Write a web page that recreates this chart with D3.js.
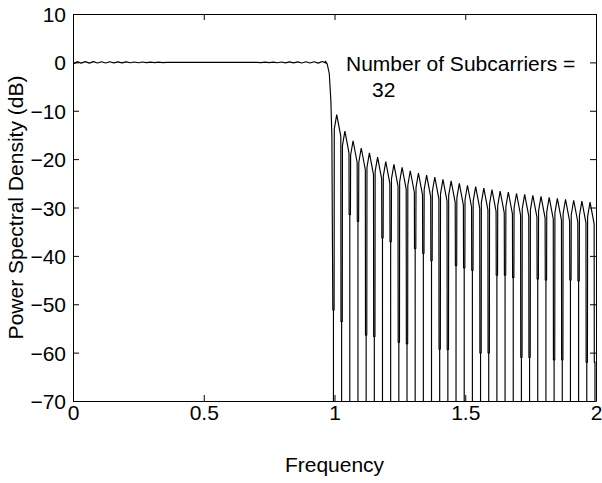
<!DOCTYPE html>
<html><head><meta charset="utf-8">
<script src="https://cdn.jsdelivr.net/npm/d3@7"></script>
<style>
body{margin:0;background:#fff}
svg text{font-family:"Liberation Sans",Arial,Helvetica,sans-serif;fill:#000}
</style>
</head><body>
<svg id="chart" width="602" height="483"></svg>
<script>
// ---------- data ----------
const xTickValues = [0, 0.5, 1, 1.5, 2];
const yTickValues = [10, 0, -10, -20, -30, -40, -50, -60, -70];
const xLabel = "Frequency";
const yLabel = "Power Spectral Density (dB)";
const noteLine1 = "Number of Subcarriers =";
const noteLine2 = "32";

// passband, sampled every 1/64 from 0 (dB)
const passbandDb = [
 -0.4, 0.15,-0.15, 0.15,-0.15, 0.15,-0.12, 0.12,-0.12, 0.12,-0.1, 0.1,
 -0.1, 0.1,-0.08, 0.08,-0.08, 0.08,-0.06, 0.06,-0.05, 0.05,-0.04, 0,
  0, 0, 0, 0, 0, 0, 0, 0, 0, 0, 0, 0, 0, 0, 0, 0, 0, 0, 0, 0, 0, 0,
 -0.05, 0.05,-0.06, 0.06,-0.08, 0.08,-0.1, 0.1,-0.1, 0.1,-0.12, 0.12,
 -0.12, 0.12,-0.15, 0.2,-0.15
];
// band edge roll-off
const edgeFreq = [0.964, 0.972, 0.980, 0.986, 0.990];
const edgeDb   = [0.3, -0.3, -2.3, -7.8, -15.4];

// sidelobes (32 lobes between the band edge and 2)
const firstNull = 0.996;
const nullSpacing = 1 / 32;
const lobePeakDb = [
 -10.8,-14.2,-16.2,-17.7,-18.7,-19.6,-20.5,-21.1,-21.7,-22.4,-22.9,-23.3,
 -23.7,-24.2,-24.5,-25.0,-25.4,-25.7,-26.0,-26.3,-26.6,-26.8,-27.1,-27.3,
 -27.5,-27.7,-27.9,-28.1,-28.3,-28.5,-28.7,-28.9
];
const lobeRiseDb = [
 -13.8,-17.2,-19.2,-20.7,-21.7,-22.6,-23.5,-24.1,-24.7,-25.4,-25.9,-26.3,
 -26.7,-27.2,-27.5,-28.0,-28.4,-28.7,-29.0,-29.3,-29.6,-29.8,-30.1,-30.3,
 -30.5,-30.7,-30.9,-31.1,-31.3,-31.5,-31.7,-31.9
];
const lobeFallDb = [
 -15.3,-18.7,-20.7,-22.2,-23.2,-24.1,-25.0,-25.6,-26.2,-26.9,-27.4,-27.8,
 -28.2,-28.7,-29.0,-29.5,-29.9,-30.2,-30.5,-30.8,-31.1,-31.3,-31.6,-31.8,
 -32.0,-32.2,-32.4,-32.6,-32.8,-33.0,-33.2,-33.4
];
// level where the two strokes at each null merge into one line (33 nulls)
const nullDipDb = [
 -51.2,-53.6,-31.5,-32.9,-56.4,-56.7,-36.3,-37.1,-57.9,-58.2,-38.5,-39.5,
 -41.0,-59.3,-59.4,-42.0,-42.5,-43.0,-60.1,-60.1,-44.0,-44.0,-44.5,-61.0,
 -61.0,-44.8,-45.0,-61.5,-61.5,-45.0,-45.2,-62.0,-62.0
];
const nullFloorDb = -90;

// ---------- layout ----------
const W = 602, H = 483;
const m = {left: 73, right: 6, top: 14, bottom: 82};
const svg = d3.select("#chart");
const x = d3.scaleLinear().domain([0, 2]).range([m.left, W - m.right]);
const y = d3.scaleLinear().domain([-70, 10]).range([H - m.bottom, m.top]);

// build the curve
const pts = [];
passbandDb.forEach((v, i) => pts.push([i / 64, v]));
edgeFreq.forEach((f, i) => pts.push([f, edgeDb[i]]));
const w = nullSpacing, e = 0.08 * w;
for (let k = 0; k < nullDipDb.length; k++) {
  const fn = firstNull + k * w;
  pts.push([fn - e, nullDipDb[k]]);
  pts.push([fn, nullDipDb[k]]);
  pts.push([fn, nullFloorDb]);
  pts.push([fn, nullDipDb[k]]);
  pts.push([fn + e, nullDipDb[k]]);
  if (k < lobePeakDb.length) {
    pts.push([fn + 0.10 * w, lobeRiseDb[k]]);
    pts.push([fn + 0.40 * w, lobePeakDb[k]]);
    pts.push([fn + 0.90 * w, lobeFallDb[k]]);
  }
}

svg.append("defs").append("clipPath").attr("id", "clip")
  .append("rect").attr("x", m.left).attr("y", m.top)
  .attr("width", W - m.left - m.right).attr("height", H - m.top - m.bottom);

svg.append("path")
  .datum(pts)
  .attr("clip-path", "url(#clip)")
  .attr("fill", "none")
  .attr("stroke", "#000")
  .attr("stroke-width", 1.15)
  .attr("stroke-linejoin", "bevel")
  .attr("d", d3.line().x(d => x(d[0])).y(d => y(d[1])));

// axes (MATLAB style: box, inward ticks on all four sides)
const tick = 6;
const fs = 21;
const axB = svg.append("g").attr("transform", `translate(0,${H - m.bottom})`)
  .call(d3.axisBottom(x).tickValues(xTickValues).tickSizeInner(-tick).tickSizeOuter(0).tickPadding(4).tickFormat(d3.format("")));
const axT = svg.append("g").attr("transform", `translate(0,${m.top})`)
  .call(d3.axisTop(x).tickValues(xTickValues).tickSizeInner(-tick).tickSizeOuter(0).tickFormat(""));
const axL = svg.append("g").attr("transform", `translate(${m.left},0)`)
  .call(d3.axisLeft(y).tickValues(yTickValues).tickSizeInner(-tick).tickSizeOuter(0).tickPadding(7).tickFormat(d3.format("")));
const axR = svg.append("g").attr("transform", `translate(${W - m.right},0)`)
  .call(d3.axisRight(y).tickValues(yTickValues).tickSizeInner(-tick).tickSizeOuter(0).tickFormat(""));
[axB, axT, axL, axR].forEach(g => {
  g.select(".domain").attr("stroke", "#000").attr("stroke-width", 1);
  g.selectAll(".tick line").attr("stroke", "#000");
  g.selectAll("text").attr("font-size", fs).attr("font-family", null).attr("fill", "#000");
});
axB.selectAll("text").attr("dy", null).attr("y", 19);
axL.selectAll("text").attr("dy", "0.36em");

svg.append("text").attr("x", x(1)).attr("y", 472).attr("text-anchor", "middle")
  .attr("font-size", fs).text(xLabel);
svg.append("text").attr("transform", `translate(23,${(m.top + H - m.bottom) / 2}) rotate(-90)`)
  .attr("text-anchor", "middle").attr("font-size", fs).text(yLabel);
svg.append("text").attr("x", 346).attr("y", 71).attr("font-size", fs).text(noteLine1);
svg.append("text").attr("x", 372).attr("y", 97).attr("font-size", fs).text(noteLine2);
</script>
</body></html>
